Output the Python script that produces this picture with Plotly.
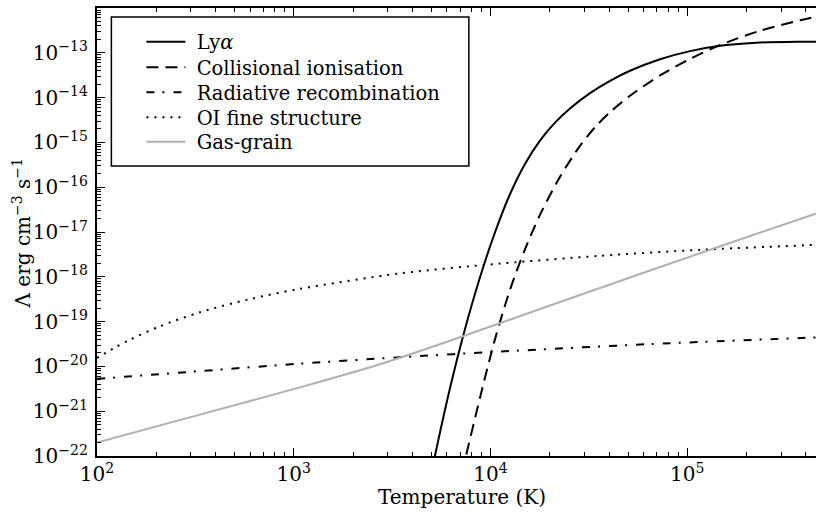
import plotly.graph_objects as go

# ---- data ----
T_lya = [4918, 5215, 6217, 7410, 8834, 10530, 12550, 14960, 17830, 21260, 25340,
         32030, 40480, 51150, 72690, 103300, 146800, 234400, 374500, 500000]
L_lya = [2.84e-23, 1.0e-22, 3.21e-21, 6.75e-20, 9.64e-19, 9.75e-18, 6.96e-17,
         3.31e-16, 1.10e-15, 2.77e-15, 5.74e-15, 1.26e-14, 2.37e-14, 3.97e-14,
         7.19e-14, 1.09e-13, 1.43e-13, 1.70e-13, 1.77e-13, 1.77e-13]

T_ci = [7155, 7498, 8834, 10530, 12550, 14960, 17830, 22540, 28480, 33950, 40480,
        51150, 72690, 103300, 146800, 234400, 374500, 500000]
L_ci = [4.22e-23, 1.0e-22, 1.98e-21, 4.01e-20, 5.10e-19, 4.09e-18, 2.41e-17,
        1.70e-16, 8.36e-16, 2.18e-15, 4.72e-15, 1.10e-14, 3.13e-14, 7.31e-14,
        1.49e-13, 3.11e-13, 5.31e-13, 7.05e-13]

T_rr = [100, 332.9, 1073, 3462, 11160, 64650, 500000]
L_rr = [5.28e-21, 7.85e-21, 1.15e-20, 1.60e-20, 2.14e-20, 3.15e-20, 4.51e-20]

T_oi = [100, 123, 146.7, 208.4, 332.9, 597.7, 1073, 3462, 11160, 35990, 116100, 500000]
L_oi = [1.54e-20, 2.61e-20, 3.92e-20, 7.83e-20, 1.61e-19, 3.18e-19, 5.38e-19,
        1.19e-18, 1.97e-18, 2.94e-18, 4.00e-18, 5.26e-18]

T_gg = [100, 332.9, 1073, 2739, 6217, 20060, 64650, 208500, 500000]
L_gg = [2.0e-22, 8.39e-22, 3.40e-21, 1.12e-20, 3.74e-20, 2.28e-19, 1.38e-18,
        8.13e-18, 3.01e-17]

names = ["Ly<i>α</i>", "Collisional ionisation", "Radiative recombination",
         "OI fine structure", "Gas-grain"]

x_range = [2, 5.654]
y_range = [-22, -12]

FONT = "DejaVu Serif"

fig = go.Figure()
series = [
    (T_lya, L_lya, dict(color="black", width=2, dash="solid")),
    (T_ci, L_ci, dict(color="black", width=2, dash="12px,7px")),
    (T_rr, L_rr, dict(color="black", width=2, dash="8px,8px,2px,9px")),
    (T_oi, L_oi, dict(color="black", width=2, dash="2px,6px")),
    (T_gg, L_gg, dict(color="#b0b0b0", width=2, dash="solid")),
]
legend_ids = ["legend", "legend2", "legend3", "legend4", "legend5"]
for (t, l, ln), nm, lg in zip(series, names, legend_ids):
    fig.add_trace(go.Scatter(x=t, y=l, mode="lines", name="\u00a0" + nm, legend=lg,
                             line=dict(shape="spline", smoothing=0.8, **ln)))

minor = dict(ticks="inside", ticklen=4, tickwidth=1, tickcolor="black",
             dtick="D1", showgrid=False)

row_y = [0.9241, 0.8672, 0.8114, 0.7556, 0.7009]
legend_layout = {}
for lg, yy in zip(legend_ids, row_y):
    legend_layout[lg] = dict(x=0.0618, y=yy, xanchor="left", yanchor="middle",
                             bgcolor="rgba(0,0,0,0)", borderwidth=0,
                             font=dict(family=FONT, size=19.5), itemwidth=39)

fig.update_layout(
    width=816, height=521,
    margin=dict(l=97.3, r=0, t=8, b=65),
    plot_bgcolor="white", paper_bgcolor="white",
    font=dict(family=FONT, color="black", size=16),
    showlegend=True,
    xaxis=dict(type="log", range=x_range, dtick=1, exponentformat="power",
               showline=True, linecolor="black", linewidth=2, mirror="allticks",
               ticks="inside", ticklen=8, tickwidth=1, tickcolor="black",
               showgrid=False, zeroline=False, minor=minor,
               tickfont=dict(family=FONT, size=16)),
    yaxis=dict(type="log", range=y_range, dtick=1, exponentformat="power",
               showline=True, linecolor="black", linewidth=2, mirror=False,
               ticks="inside", ticklen=8, tickwidth=1, tickcolor="black",
               showgrid=False, zeroline=False, minor=minor,
               ticklabelstandoff=4,
               tickfont=dict(family=FONT, size=16)),
    yaxis2=dict(type="log", range=y_range, dtick=1, overlaying="y", side="right",
                anchor="x", showline=False, showticklabels=False,
                ticks="inside", ticklen=8, tickwidth=1, tickcolor="black",
                showgrid=False, zeroline=False, minor=minor),
    **legend_layout,
)

# legend frame
fig.add_shape(type="rect", xref="paper", yref="paper",
              x0=0.0200, x1=0.5172, y0=0.6473, y1=0.9799,
              line=dict(color="black", width=1.5), fillcolor="white", layer="below")

fig.add_annotation(text="Temperature (K)", xref="paper", yref="paper",
                   x=0.5074, y=-0.0915, xanchor="center", yanchor="middle",
                   showarrow=False, font=dict(family=FONT, size=20))
fig.add_annotation(text="Λ erg cm<sup>−3</sup> s<sup>−1</sup>", xref="paper", yref="paper",
                   x=-0.1048, y=0.496, xanchor="center", yanchor="middle", textangle=-90,
                   showarrow=False, font=dict(family=FONT, size=20))

fig.write_html("out.html")
